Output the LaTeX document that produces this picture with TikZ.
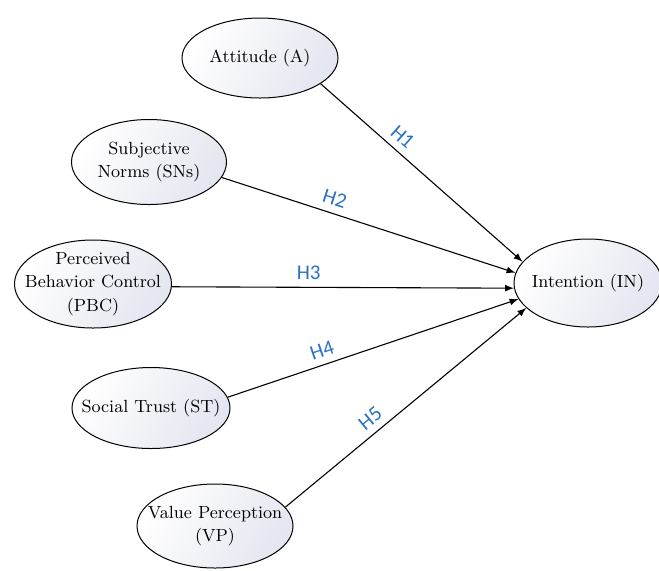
\documentclass[tikz,border=0pt]{standalone}
\usepackage{fontspec}
\newfontfamily\hfont{Carlito}
\usepackage{tikz}
\usetikzlibrary{arrows,shapes,positioning}
\definecolor{hblue}{RGB}{43,114,196}
\definecolor{ellgray}{RGB}{228,230,240}

\begin{document}
\begin{tikzpicture}[x=0.5pt, y=-0.5pt,
		var/.style={ellipse, draw, line width=0.5pt, inner sep=0pt,
			left color=white, right color=ellgray, shading angle=60,
			label={[align=center, font=\fontsize{8.8}{11.8}\selectfont]center:#1}},
		hyp/.style={->, >=latex, line width=0.55pt},
		hlab/.style={sloped, above=2.5pt, inner sep=1pt, font=\hfont\fontsize{10.5}{12}\selectfont, text=hblue}]
			\useasboundingbox (0, 0) rectangle (659, 570);
			\node[var={Attitude (A)}, minimum width=78pt, minimum height=40pt] (att) at (260, 58) {};
			\node[var={Subjective\\Norms (SNs)}, minimum width=77.5pt, minimum height=42.5pt] (sn) at (149, 162) {};
			\node[var={Perceived\\Behavior Control\\(PBC)}, minimum width=78.5pt, minimum height=44pt] (pbc) at (93, 284) {};
			\node[var={Social Trust (ST)}, minimum width=79pt, minimum height=40.5pt] (st) at (151, 408) {};
			\node[var={Value Perception\\(VP)}, minimum width=78pt, minimum height=42pt] (vp) at (215, 526) {};
			\node[var={Intention (IN)}, minimum width=74pt, minimum height=44pt] (in) at (588, 283) {};
			\draw[hyp] (att.-23) -- node[hlab, pos=.36] {H1} (in.162);
			\draw[hyp] (sn.-12) -- node[hlab, pos=.37] {H2} (in.172);
			\draw[hyp] (pbc.-2) -- node[hlab, pos=.4] {H3} (in.184);
			\draw[hyp] (st.8) -- node[hlab, pos=.34] {H4} (in.193);
			\draw[hyp] (vp.15) -- node[hlab, pos=.39] {H5} (in.202);
		\end{tikzpicture}
\end{document}
